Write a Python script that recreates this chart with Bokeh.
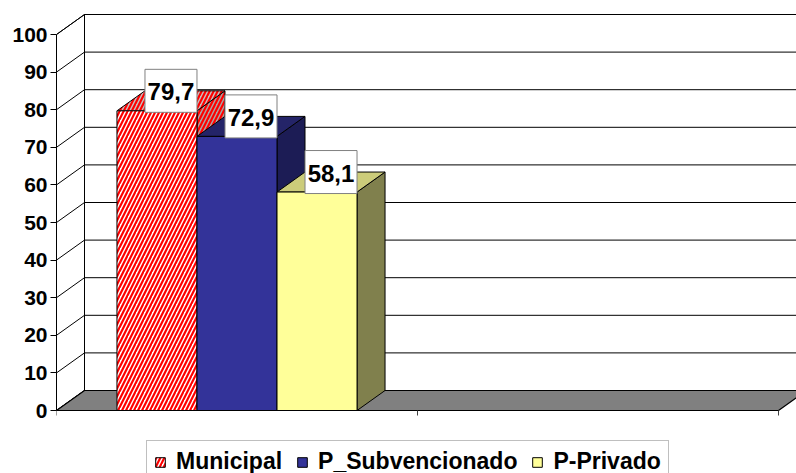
from bokeh.plotting import figure
from bokeh.models import Range1d, FixedTicker, Legend, LegendItem, ColumnDataSource
from bokeh.core.properties import value
from bokeh.embed import file_html
from bokeh.resources import INLINE

# ---------------- data ----------------
series = ["Municipal", "P_Subvencionado", "P-Privado"]
values = [79.7, 72.9, 58.1]
value_labels = ["79,7", "72,9", "58,1"]
y_ticks = [0, 10, 20, 30, 40, 50, 60, 70, 80, 90, 100]
n_slots = 2          # category slots on the floor (second is empty)
y_max = 100

# ---------------- style / geometry ----------------
W, H = 796, 473
LEFT = 56            # frame left (front value axis)
SLOT_PX = 361        # pixels per category slot
PX_PER_UNIT = 3.76   # pixels per value unit
ZERO_PX = 410        # y pixel of value 0 (from top)
DX_PX, DY_PX = 28, 20  # 3-D depth offset in pixels
GROUP = 0.665        # fraction of a slot used by the bar group
FONT = "Liberation Sans"

front_colors = ["#ffffff", "#333399", "#ffff99"]
top_colors = ["#c4c4c4", "#242468", "#cccc7a"]
side_colors = ["#a8a8a8", "#1c1c55", "#80804d"]
hatches = ["right_diagonal_line", None, None]

x_end = (W - LEFT) / SLOT_PX
y_start = -(H - ZERO_PX) / PX_PER_UNIT
y_end = ZERO_PX / PX_PER_UNIT
dx = DX_PX / SLOT_PX
dy = DY_PX / PX_PER_UNIT

p = figure(width=W, height=H, output_backend="svg", toolbar_location=None,
           x_range=Range1d(0, x_end), y_range=Range1d(y_start, y_end),
           x_axis_location=None, y_axis_location="left",
           min_border_left=LEFT, min_border_right=0, min_border_top=0, min_border_bottom=0,
           background_fill_color="white", border_fill_color="white")
p.outline_line_color = None
p.xgrid.visible = False
p.ygrid.visible = False

ax = p.yaxis[0]
ax.ticker = FixedTicker(ticks=y_ticks)
ax.bounds = (0, y_max)
ax.axis_line_color = "black"
ax.major_tick_line_color = "black"
ax.minor_tick_line_color = None
ax.major_tick_out = 6
ax.major_tick_in = 0
ax.major_label_standoff = 3
ax.major_label_text_font = FONT
ax.major_label_text_font_style = "bold"
ax.major_label_text_font_size = "21px"
ax.major_label_text_color = "black"

big = x_end + 1
# back wall
p.quad(left=[dx], right=[big], bottom=[dy], top=[y_max + dy],
       fill_color="white", line_color="black", line_width=1)
# side wall
p.patch([0, dx, dx, 0], [0, dy, y_max + dy, y_max], fill_color="white",
        line_color="black", line_width=1)
# gridlines on back wall and side wall
p.segment(x0=[dx] * len(y_ticks), y0=[t + dy for t in y_ticks],
          x1=[big] * len(y_ticks), y1=[t + dy for t in y_ticks],
          line_color="black", line_width=1)
p.segment(x0=[0] * len(y_ticks), y0=y_ticks,
          x1=[dx] * len(y_ticks), y1=[t + dy for t in y_ticks],
          line_color="black", line_width=1)
# floor
p.patch([0, n_slots, n_slots + dx, dx], [0, 0, dy, dy], fill_color="#808080",
        line_color="black", line_width=1.2)
# category ticks below the floor
cat_ticks = list(range(n_slots + 1))
tick_len = 5 / PX_PER_UNIT
p.segment(x0=cat_ticks, y0=[0] * len(cat_ticks), x1=cat_ticks,
          y1=[-tick_len] * len(cat_ticks), line_color="#404040", line_width=1)

bw = GROUP / len(values)
x_start_group = 0.5 - GROUP / 2
legend_items = []
for i, (name, v) in enumerate(zip(series, values)):
    x0 = x_start_group + i * bw
    x1 = x0 + bw
    hatch_kw = {}
    if hatches[i]:
        hatch_kw = dict(hatch_pattern=hatches[i], hatch_color="#ff0000",
                        hatch_scale=8, hatch_weight=2.2)
    # side face
    p.patch([x1, x1 + dx, x1 + dx, x1], [0, dy, v + dy, v],
            fill_color=side_colors[i], line_color="black", line_width=1, **hatch_kw)
    # top face
    p.patch([x0, x1, x1 + dx, x0 + dx], [v, v, v + dy, v + dy],
            fill_color=top_colors[i], line_color="black", line_width=1, **hatch_kw)
    # front face
    r = p.quad(left=[x0], right=[x1], bottom=[0], top=[v],
               fill_color=front_colors[i], line_color="black", line_width=1, **hatch_kw)
    legend_items.append(LegendItem(label=name, renderers=[r]))

# value labels
lx = [x_start_group + (i + 0.5) * bw + dx / 2 for i in range(len(values))]
ly = [v + dy for v in values]
src = ColumnDataSource(dict(x=lx, y=ly, t=value_labels))
p.rect(x="x", y="y", width=52, height=43, width_units="screen", height_units="screen",
       source=src, fill_color="white", line_color="#808080", line_width=1)
p.text(x="x", y="y", text="t", source=src, text_align="center", text_baseline="middle",
       text_font=value(FONT), text_font_style="bold", text_font_size="24px",
       text_color="black", y_offset=1)

legend = Legend(items=legend_items, orientation="horizontal", location=(90, -10),
                glyph_width=12, glyph_height=12, label_standoff=10, spacing=14,
                padding=7, margin=0, border_line_color="#808080", border_line_width=1,
                background_fill_color="white", background_fill_alpha=1,
                label_text_font=FONT, label_text_font_style="bold",
                label_text_font_size="23px", label_text_color="black")
p.add_layout(legend, "center")

open("out.html", "w").write(file_html(p, INLINE))
